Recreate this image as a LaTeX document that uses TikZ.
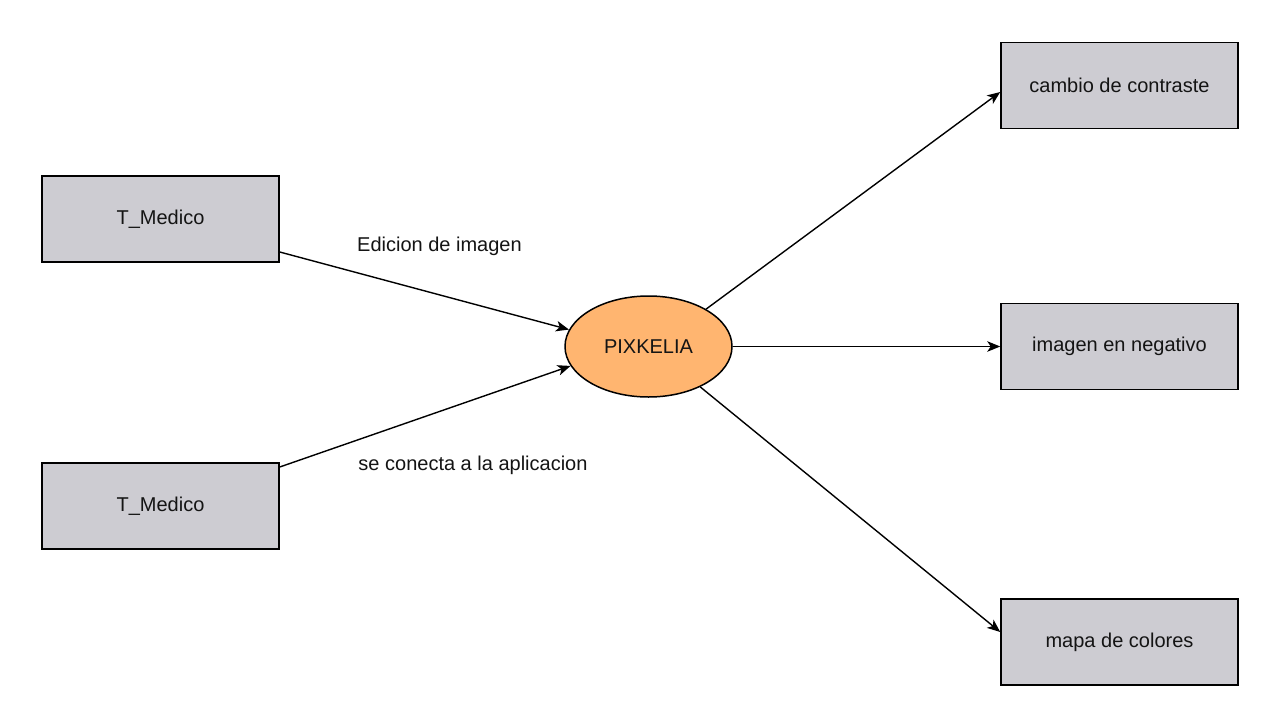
\documentclass[tikz,border=0pt]{standalone}
\usepackage{fontspec}
\setmainfont{Liberation Sans}
\usetikzlibrary{arrows.meta,shapes.geometric,calc}
\definecolor{boxgray}{RGB}{205,204,210}
\definecolor{ellorange}{RGB}{255,181,112}
\definecolor{txt}{RGB}{20,20,20}
\begin{document}
\begin{tikzpicture}[x=1pt,y=-1pt,
  every node/.style={font=\fontsize{20}{24}\selectfont, text=txt},
  boxnode/.style={draw=black, line width=1.5pt, fill=boxgray, minimum width=237pt, minimum height=86pt, inner sep=0pt},
  ellnode/.style={ellipse, draw=black, line width=1.5pt, fill=ellorange, minimum width=167pt, minimum height=101pt, inner sep=0pt},
  conn/.style={line width=1.4pt, -{Stealth[length=13pt,width=10.5pt,inset=3.5pt]}},
  lbl/.style={inner sep=0pt}]
\useasboundingbox (0,0) rectangle (1280,728);
\fill[white] (0,0) rectangle (1280,728);
\node[boxnode] (t1) at (160.5,219) {T\_Medico};
\node[boxnode] (t2) at (160.5,506) {T\_Medico};
\node[ellnode] (p) at (648.5,346.5) {PIXKELIA};
\node[boxnode] (c) at (1119.5,85.5) {cambio de contraste};
\node[boxnode] (n) at (1119.5,346.5) {imagen en negativo};
\node[boxnode] (m) at (1119.5,642) {mapa de colores};
\coordinate (s1) at ($(t1.east)+(0,33)$);
\coordinate (s2) at ($(t2.east)+(0,-39)$);
\coordinate (e3) at ($(c.west)+(0,6.5)$);
\coordinate (e5) at ($(m.west)+(0,-10)$);
\draw[conn] (s1) -- (p.168);
\draw[conn] (s2) -- (p.194);
\draw[conn] (p.33) -- (e3);
\draw[conn] (p.east) -- (n.west);
\draw[conn] (p.-38) -- (e5);
\node[lbl] (l1) at (439.5,246) {Edicion de imagen};
\node[lbl] (l2) at (473,465) {se conecta a la aplicacion};
\end{tikzpicture}
\end{document}
